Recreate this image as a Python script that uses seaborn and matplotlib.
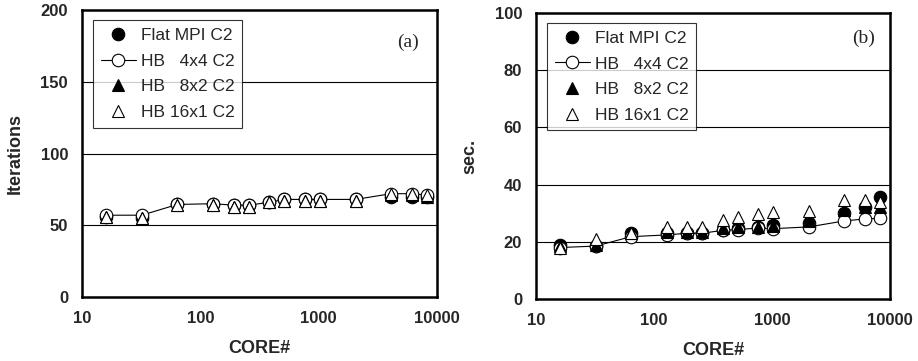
import numpy as np
import pandas as pd
import seaborn as sns
import matplotlib
matplotlib.use("Agg")
import matplotlib.pyplot as plt
from matplotlib.ticker import AutoMinorLocator, FixedLocator, NullFormatter

cores = [16, 32, 64, 128, 192, 256, 384, 512, 768, 1024, 2048, 4096, 6144, 8192]

# (a) iterations
iter_flat = [56, 55, 65, 65, 64, 64, 66, 68, 68, 68, 68, 70, 70, 70]
iter_hb4x4 = [57, 57, 64.5, 65, 64, 64, 66, 68, 68, 68, 68, 72, 72, 71]
iter_hb8x2 = [56, 55, 64, 64, 63, 63, 66, 67, 67, 67, 67, 71, 71, 70]
iter_hb16x1 = [56, 55, 64, 64, 63, 63, 66, 67, 67, 67, 67, 72, 72, 71]

# (b) elapsed time
sec_flat = [19, 18.5, 23, 23, 23, 23, 24, 25, 25.3, 25.7, 26.5, 30, 32, 35.6]
sec_hb4x4 = [18, 18.5, 21.8, 22.4, 23, 23, 24, 24.3, 24.8, 24.6, 25.2, 27.3, 28, 28.2]
sec_hb8x2 = [18.5, 19, 23, 23.5, 23.5, 23.5, 24.8, 25.2, 25.2, 25.6, 27.3, 31, 32, 32]
sec_hb16x1 = [18, 21, 23, 25.2, 25.2, 25.2, 27.6, 28.6, 29.6, 30.3, 30.6, 34.6, 34.6, 34]

labels = ["Flat MPI C2", "HB   4x4 C2", "HB   8x2 C2", "HB 16x1 C2"]

sns.set_style("white")
plt.rcParams['font.family'] = ['Liberation Sans', 'DejaVu Sans']

fig = plt.figure(figsize=(9.18, 3.61), dpi=100)
ax_a = fig.add_axes([82 / 918, 1 - 297 / 361, 355 / 918, 287 / 361])
ax_b = fig.add_axes([536 / 918, 1 - 299 / 361, 354 / 918, 286 / 361])


def draw(ax, series, ymax, ystep, ylabel, tag, tagpos):
    styles = [
        dict(marker='o', mfc='black', ls=''),
        dict(marker='o', mfc='white', ls='-'),
        dict(marker='^', mfc='black', ls=''),
        dict(marker='^', mfc='white', ls=''),
    ]
    for vals, lab, st in zip(series, labels, styles):
        df = pd.DataFrame({"core": cores, "val": vals})
        sns.lineplot(data=df, x="core", y="val", ax=ax, label=lab, color='black',
                     marker=st['marker'], markerfacecolor=st['mfc'], linestyle=st['ls'],
                     markeredgecolor='black', markeredgewidth=0.8, markersize=9,
                     linewidth=0.8)
    ax.set_xscale('log')
    ax.set_xlim(10, 10000)
    ax.set_ylim(0, ymax)
    ax.set_yticks(np.arange(0, ymax + 1, ystep))
    ax.yaxis.set_minor_locator(AutoMinorLocator(5))
    ax.xaxis.set_major_locator(FixedLocator([10, 100, 1000, 10000]))
    ax.set_xticklabels(['10', '100', '1000', '10000'])
    ax.xaxis.set_minor_formatter(NullFormatter())
    for y in np.arange(ystep, ymax, ystep):
        ax.axhline(y, color='black', lw=0.8, zorder=0)
    ax.tick_params(which='both', direction='in', top=False, right=False,
                   labelsize=12)
    ax.tick_params(which='major', length=4, width=1.2, pad=10)
    ax.tick_params(which='minor', length=3, width=1.0)
    for lbl in ax.get_xticklabels() + ax.get_yticklabels():
        lbl.set_fontweight('bold')
    for sp in ax.spines.values():
        sp.set_linewidth(1.8)
        sp.set_color('black')
    ax.set_xlabel('CORE#', fontsize=13, fontweight='bold', labelpad=10)
    ax.set_ylabel(ylabel, fontsize=13, fontweight='bold', labelpad=12)
    leg = ax.legend(loc='upper left', bbox_to_anchor=(0.031, 0.965), frameon=True,
                    fancybox=False, edgecolor='black', fontsize=12.5,
                    handlelength=2.0, handletextpad=0.3, labelspacing=0.6,
                    borderpad=0.45, borderaxespad=0)
    leg.get_frame().set_linewidth(0.8)
    ax.text(tagpos[0], tagpos[1], tag, transform=ax.transAxes, fontsize=14,
            family='Liberation Serif', ha='center', va='center')


draw(ax_a, [iter_flat, iter_hb4x4, iter_hb8x2, iter_hb16x1], 200, 50, 'Iterations', '(a)',
     (0.918, 0.888))
draw(ax_b, [sec_flat, sec_hb4x4, sec_hb8x2, sec_hb16x1], 100, 20, 'sec.', '(b)',
     (0.924, 0.91))

fig.savefig('out.png', dpi=100)
